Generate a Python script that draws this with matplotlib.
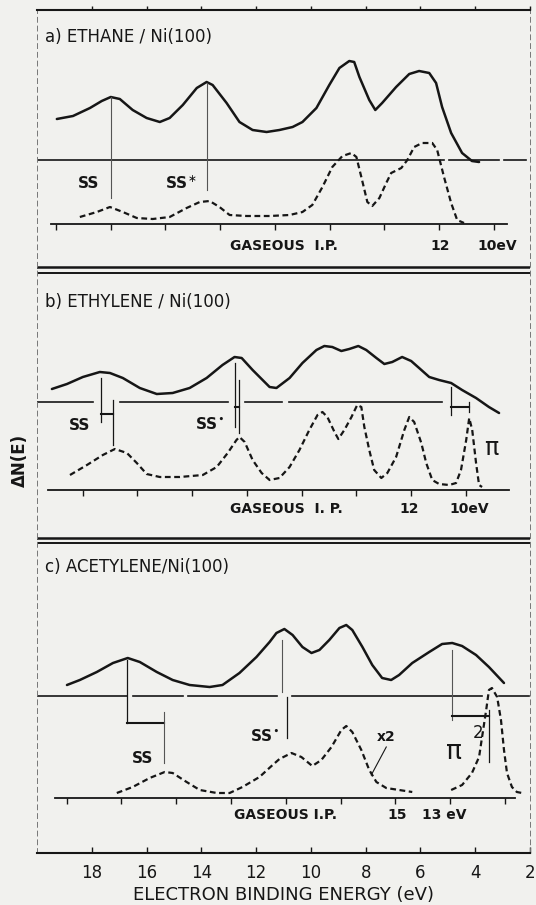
import matplotlib
matplotlib.use("Agg")
import matplotlib.pyplot as plt
import numpy as np

# UPS difference spectra, hydrocarbons on Ni(100)
# energies on the main binding-energy scale (eV), heights above each panel's gaseous baseline

# a) ethane
ethane_ads_E = [19.28, 18.69, 18.07, 17.64, 17.31, 16.98, 16.51, 16.00, 15.52, 15.16, 14.68, 14.17,
                13.81, 13.59, 13.08, 12.61, 12.13, 11.62, 11.15, 10.67, 10.31, 9.80, 9.33, 8.96,
                8.60, 8.42, 8.23, 7.87, 7.65, 7.40, 6.89, 6.41, 6.05, 5.68, 5.43, 5.21, 4.88, 4.48,
                4.12, 3.86]
ethane_ads_h = [105, 108, 116, 123, 127, 125, 114, 106, 102, 106, 119, 136,
                142, 139, 121, 102, 94, 92, 94, 97, 102, 116, 139, 156,
                163, 162, 147, 124, 114, 121, 137, 150, 153, 151, 141, 117, 91, 71,
                63, 62]
ethane_gas_E = [18.44, 17.82, 17.34, 16.87, 16.36, 15.78, 15.16, 14.54, 14.06, 13.70, 13.34, 12.97,
                12.35, 11.51, 10.78, 10.31, 9.95, 9.58, 9.22, 8.85, 8.52, 8.34, 8.16, 7.94, 7.76,
                7.50, 7.25, 7.07, 6.70, 6.48, 6.23, 5.94, 5.57, 5.39, 5.14, 4.88, 4.66, 4.41]
ethane_gas_h = [7, 12, 17, 12, 6, 5, 7, 16, 22, 23, 17, 9,
                8, 8, 9, 12, 19, 37, 57, 68, 71, 67, 47, 22, 18,
                26, 41, 51, 56, 64, 77, 81, 81, 74, 47, 21, 4, 1]

# b) ethylene
ethylene_ads_E = [19.46, 18.91, 18.33, 17.71, 17.34, 16.87, 16.25, 15.63, 15.05, 14.43, 13.81, 13.23,
                  12.79, 12.53, 12.13, 11.51, 11.26, 10.78, 10.31, 9.80, 9.51, 9.22, 8.89, 8.60,
                  8.27, 7.98, 7.61, 7.32, 7.03, 6.67, 6.34, 6.05, 5.68, 5.32, 4.88, 4.48, 3.97,
                  3.50, 3.13]
ethylene_ads_h = [101, 106, 113, 118, 117, 112, 102, 96, 97, 102, 112, 125,
                  133, 132, 120, 103, 102, 112, 127, 140, 144, 143, 139, 141,
                  144, 140, 132, 126, 128, 133, 129, 122, 113, 110, 107, 100, 92,
                  83, 77]
ethylene_gas_E = [18.80, 18.18, 17.60, 17.16, 16.72, 16.36, 16.00, 15.52, 14.79, 13.95, 13.44, 13.04,
                  12.72, 12.61, 12.42, 12.13, 11.80, 11.51, 11.15, 10.78, 10.42, 10.06, 9.76, 9.58,
                  9.40, 9.14, 9.00, 8.78, 8.52, 8.31, 8.16, 8.05, 7.87, 7.69, 7.43, 7.21, 6.89,
                  6.59, 6.41, 6.23, 5.97, 5.79, 5.57, 5.32, 4.95, 4.70, 4.52, 4.33, 4.22, 4.11,
                  3.97, 3.86, 3.75]
ethylene_gas_h = [15, 25, 35, 41, 37, 27, 16, 13, 13, 15, 23, 37,
                  50, 53, 48, 30, 17, 10, 12, 23, 40, 60, 75, 78,
                  73, 58, 51, 60, 73, 85, 83, 63, 40, 20, 12, 17, 33,
                  60, 73, 68, 47, 27, 10, 6, 5, 7, 20, 50, 72, 60,
                  27, 5, 3]

# c) acetylene
acetylene_ads_E = [18.91, 18.44, 17.82, 17.23, 16.69, 16.25, 15.63, 15.05, 14.43, 13.70, 13.23, 12.61,
                   11.99, 11.51, 11.26, 10.97, 10.67, 10.31, 9.98, 9.69, 9.33, 8.96, 8.71, 8.49,
                   8.12, 7.76, 7.40, 7.07, 6.78, 6.30, 5.68, 5.21, 4.84, 4.48, 3.97, 3.50, 2.95]
acetylene_ads_h = [113, 118, 126, 135, 140, 136, 126, 118, 113, 111, 113, 125,
                   141, 156, 165, 169, 163, 151, 145, 148, 158, 170, 173, 168,
                   151, 133, 120, 118, 123, 135, 146, 154, 155, 152, 143, 131, 115]
acetylene_gas_E = [17.09, 16.51, 15.89, 15.34, 15.05, 14.54, 14.06, 13.44, 12.97, 12.50, 11.88, 11.40,
                   11.15, 10.71, 10.35, 9.95, 9.62, 9.25, 8.89, 8.71, 8.49, 8.16, 7.87, 7.61,
                   7.25, 6.78, 6.30]
acetylene_gas_h = [5, 11, 20, 26, 25, 16, 8, 5, 5, 11, 21, 33,
                   39, 45, 41, 32, 38, 51, 68, 72, 66, 48, 28, 16,
                   10, 8, 6]
# pi^2 band, shown x2
acetylene_pi_E = [4.88, 4.48, 4.12, 3.86, 3.75, 3.60, 3.50, 3.39, 3.20, 3.06, 2.95, 2.84, 2.66, 2.48, 2.29]
acetylene_pi_h = [8, 13, 25, 41, 61, 88, 108, 110, 101, 78, 48, 25, 11, 6, 5]

# gaseous I.P. scales: shift onto the main scale, tick values
gas_shift = {"a": 6.68, "b": 5.66, "c": 8.08}
gas_ticks = {"a": list(range(26, 9, -2)), "b": list(range(24, 9, -2)), "c": list(range(27, 10, -2))}
main_ticks = [18, 16, 14, 12, 10, 8, 6, 4, 2]

ink = "#161616"
paper = "#f1f1ee"

# pixel helpers (figure is 536 x 905, 18 eV at x=92, 27.44 px per eV)
def ex(px):
    return 18 - (px - 92) / 27.44

def ey(py):
    return 853 - py

fig = plt.figure(figsize=(5.36, 9.05), dpi=100, facecolor=paper)
ax = fig.add_axes([37 / 536, 52 / 905, 493 / 536, 843 / 905], facecolor=paper)
ax.set_xlim(ex(37), ex(530))
ax.set_ylim(0, 843)

panels = [
    dict(key="a", base=224, ref=160, ads=(ethane_ads_E, ethane_ads_h), gas=[(ethane_gas_E, ethane_gas_h)],
         gline=(51, 508), refsegs=[(36, 445), (450, 500), (505, 527)]),
    dict(key="b", base=490, ref=402, ads=(ethylene_ads_E, ethylene_ads_h), gas=[(ethylene_gas_E, ethylene_gas_h)],
         gline=(48, 510), refsegs=[(36, 93), (120, 228), (245, 283), (290, 443)]),
    dict(key="c", base=798, ref=696, ads=(acetylene_ads_E, acetylene_ads_h),
         gas=[(acetylene_gas_E, acetylene_gas_h), (acetylene_pi_E, acetylene_pi_h)],
         gline=(55, 516), refsegs=[(36, 127), (133, 183), (188, 278), (293, 483), (500, 530)]),
]

for p in panels:
    b = ey(p["base"])
    E, h = p["ads"]
    ax.plot(E, b + np.array(h), color=ink, lw=1.8, solid_capstyle="round", solid_joinstyle="round")
    for E, h in p["gas"]:
        ax.plot(E, b + np.array(h), color=ink, lw=1.6, linestyle=(0, (2.6, 1.6)),
                dash_joinstyle="round")
    # gaseous baseline with its own I.P. scale
    ax.plot([ex(p["gline"][0]), ex(p["gline"][1])], [b, b], color=ink, lw=1.3)
    tE = [t - gas_shift[p["key"]] for t in gas_ticks[p["key"]]]
    ax.vlines(tE, b - 6, b, color=ink, lw=1.0)
    # adsorbate zero line
    r = ey(p["ref"])
    for s0, s1 in p["refsegs"]:
        ax.plot([ex(s0), ex(s1)], [r, r], color=ink, lw=1.2)

# panel separators and titles
for py, lw in [(267, 1.8), (273, 1.4), (538, 1.8), (543, 1.4)]:
    ax.axhline(ey(py), color=ink, lw=lw)

title_kw = dict(fontsize=12, color=ink, va="center", ha="left")
ax.text(ex(45), ey(37), "a) ETHANE / Ni(100)", **title_kw)
ax.text(ex(45), ey(302), "b) ETHYLENE / Ni(100)", **title_kw)
ax.text(ex(45), ey(567), "c) ACETYLENE/Ni(100)", **title_kw)

lab_kw = dict(fontsize=10, fontweight="bold", color=ink, va="center", ha="center")
ax.text(ex(284), ey(246), "GASEOUS  I.P.", **lab_kw)
ax.text(ex(441), ey(246), "12", **lab_kw)
ax.text(ex(498), ey(246), "10eV", **lab_kw)
ax.text(ex(287), ey(509), "GASEOUS  I. P.", **lab_kw)
ax.text(ex(410), ey(509), "12", **lab_kw)
ax.text(ex(470), ey(509), "10eV", **lab_kw)
ax.text(ex(286), ey(815), "GASEOUS I.P.", **lab_kw)
ax.text(ex(398), ey(815), "15", **lab_kw)
ax.text(ex(445), ey(815), "13 eV", **lab_kw)

ss_kw = dict(fontsize=11, fontweight="bold", color=ink, va="center", ha="center")
ax.text(ex(89), ey(183), "SS", **ss_kw)
ax.text(ex(181), ey(183), r"SS$^{\ast}$", **ss_kw)
ax.text(ex(80), ey(425), "SS", **ss_kw)
ax.text(ex(210), ey(424), r"SS$^{\bullet}$", **ss_kw)
ax.text(ex(143), ey(758), "SS", **ss_kw)
ax.text(ex(265), ey(736), r"SS$^{\bullet}$", **ss_kw)
ax.text(ex(387), ey(737), "x2", fontsize=10, fontweight="bold", color=ink, ha="center", va="center")
ax.text(ex(492), ey(448), "π", fontsize=17, color=ink, ha="center", va="center")
ax.text(ex(455), ey(752), "π", fontsize=19, color=ink, ha="center", va="center")
ax.text(ex(479), ey(733), "2", fontsize=12, color=ink, ha="center", va="center")

# peak markers and brackets (pixel positions)
thin = dict(color=ink, lw=0.9)
thick = dict(color=ink, lw=1.5)
ax.plot([ex(111), ex(111)], [ey(97), ey(198)], color="#555555", lw=0.8)
ax.plot([ex(207), ex(207)], [ey(83), ey(190)], color="#555555", lw=0.8)

ax.plot([ex(101), ex(101)], [ey(378), ey(422)], **thin)
ax.plot([ex(101), ex(113)], [ey(414), ey(414)], **thick)
ax.plot([ex(113), ex(113)], [ey(400), ey(445)], **thin)
ax.plot([ex(235), ex(235)], [ey(363), ey(427)], **thin)
ax.plot([ex(239), ex(239)], [ey(380), ey(433)], **thin)
ax.plot([ex(235), ex(239)], [ey(407), ey(407)], **thick)
ax.plot([ex(452), ex(452)], [ey(387), ey(415)], **thin)
ax.plot([ex(452), ex(470)], [ey(407), ey(407)], **thick)
ax.plot([ex(470), ex(470)], [ey(402), ey(412)], **thin)

ax.plot([ex(127), ex(127)], [ey(660), ey(723)], **thin)
ax.plot([ex(127), ex(164)], [ey(723), ey(723)], **thick)
ax.plot([ex(164), ex(164)], [ey(712), ey(763)], color="#555555", lw=0.8)
ax.plot([ex(283), ex(283)], [ey(640), ey(692)], color="#555555", lw=0.8)
ax.plot([ex(288), ex(288)], [ey(697), ey(738)], **thin)
ax.plot([ex(453), ex(453)], [ey(650), ey(720)], color="#555555", lw=0.8)
ax.plot([ex(453), ex(490)], [ey(716), ey(716)], **thick)
ax.plot([ex(490), ex(490)], [ey(710), ey(762)], **thin)
ax.plot([ex(387), ex(372)], [ey(747), ey(775)], color=ink, lw=0.8)

# frame: solid top/bottom, faint dashed sides
for side in ["left", "right"]:
    ax.spines[side].set_linestyle((0, (5, 4)))
    ax.spines[side].set_linewidth(0.7)
    ax.spines[side].set_color("#777777")
for side in ["top", "bottom"]:
    ax.spines[side].set_linewidth(1.5)
    ax.spines[side].set_color(ink)

ax.set_yticks([])
ax.set_xticks(main_ticks)
ax.set_xticklabels([str(t) for t in main_ticks], fontsize=12, color=ink)
ax.tick_params(axis="x", direction="in", length=4, width=1.0, pad=8, colors=ink)
top = ax.secondary_xaxis("top")
top.set_xticks(main_ticks)
top.set_xticklabels([])
top.tick_params(direction="out", length=3, width=1.0, colors=ink)
top.spines["top"].set_visible(False)

ax.set_xlabel("ELECTRON BINDING ENERGY (eV)", fontsize=13, color=ink, labelpad=3)
fig.text(20 / 536, 1 - 460 / 905, "ΔN(E)", rotation=90, fontsize=12, fontweight="bold",
         color=ink, ha="center", va="center")

fig.savefig("out.png", dpi=100, facecolor=paper)
